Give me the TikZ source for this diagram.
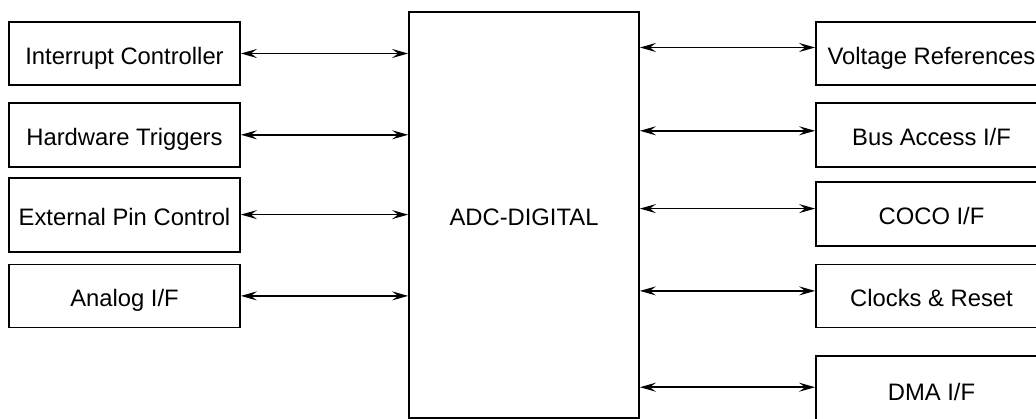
\documentclass[tikz,border=0pt]{standalone}
\usepackage{fontspec}
\setmainfont{Liberation Sans}
\usetikzlibrary{arrows.meta, positioning}

\begin{document}
\begin{tikzpicture}[
    x=1pt, y=-1pt,
    box/.style={rectangle, draw, line width=1.8pt, minimum width=231pt, minimum height=63pt, align=center, inner sep=2pt, text height=21pt, text depth=0pt, font=\fontsize{23.8}{28}\selectfont},
    core/.style={box, minimum width=230pt, minimum height=406pt},
    arrow/.style={{Stealth[length=16pt, width=9pt, inset=6pt]}-{Stealth[length=16pt, width=9pt, inset=6pt]}, line width=1.6pt},
]
\useasboundingbox (0,0) rectangle (1036,418);
\clip (0,0) rectangle (1036,418);

% Core block
\node[core] (adc) at (524,215) {ADC-DIGITAL};

% Left blocks
\node[box] (intc) at (124.5,53.5) {Interrupt Controller};
\node[box, below=16pt of intc, minimum height=64pt] (hwtrig) {Hardware Triggers};
\node[box, below=9pt of hwtrig, minimum height=74pt] (extpin) {External Pin Control};
\node[box, below=11pt of extpin] (analog) {Analog I/F};

% Right blocks
\node[box] (vref) at (931.5,53.5) {Voltage References};
\node[box, below=16pt of vref, minimum height=64pt] (bus) {Bus Access I/F};
\node[box, below=13pt of bus, minimum height=64pt] (coco) {COCO I/F};
\node[box, below=17pt of coco] (clk) {Clocks \& Reset};
\node[box, below=27pt of clk, minimum height=68pt] (dma) {DMA I/F};

% Arrows: left blocks to core
\draw[arrow] (intc.east) -- (intc.east -| adc.west);
\draw[arrow] (hwtrig.east) -- (hwtrig.east -| adc.west);
\draw[arrow] (extpin.east) -- (extpin.east -| adc.west);
\draw[arrow] (analog.east) -- (analog.east -| adc.west);

% Arrows: core to right blocks
\draw[arrow] ([yshift=6pt]vref.west -| adc.east) -- ([yshift=6pt]vref.west);
\draw[arrow] ([yshift=4pt]bus.west -| adc.east) -- ([yshift=4pt]bus.west);
\draw[arrow] ([yshift=5pt]coco.west -| adc.east) -- ([yshift=5pt]coco.west);
\draw[arrow] ([yshift=5pt]clk.west -| adc.east) -- ([yshift=5pt]clk.west);
\draw[arrow] ([yshift=3pt]dma.west -| adc.east) -- ([yshift=3pt]dma.west);

\end{tikzpicture}
\end{document}
